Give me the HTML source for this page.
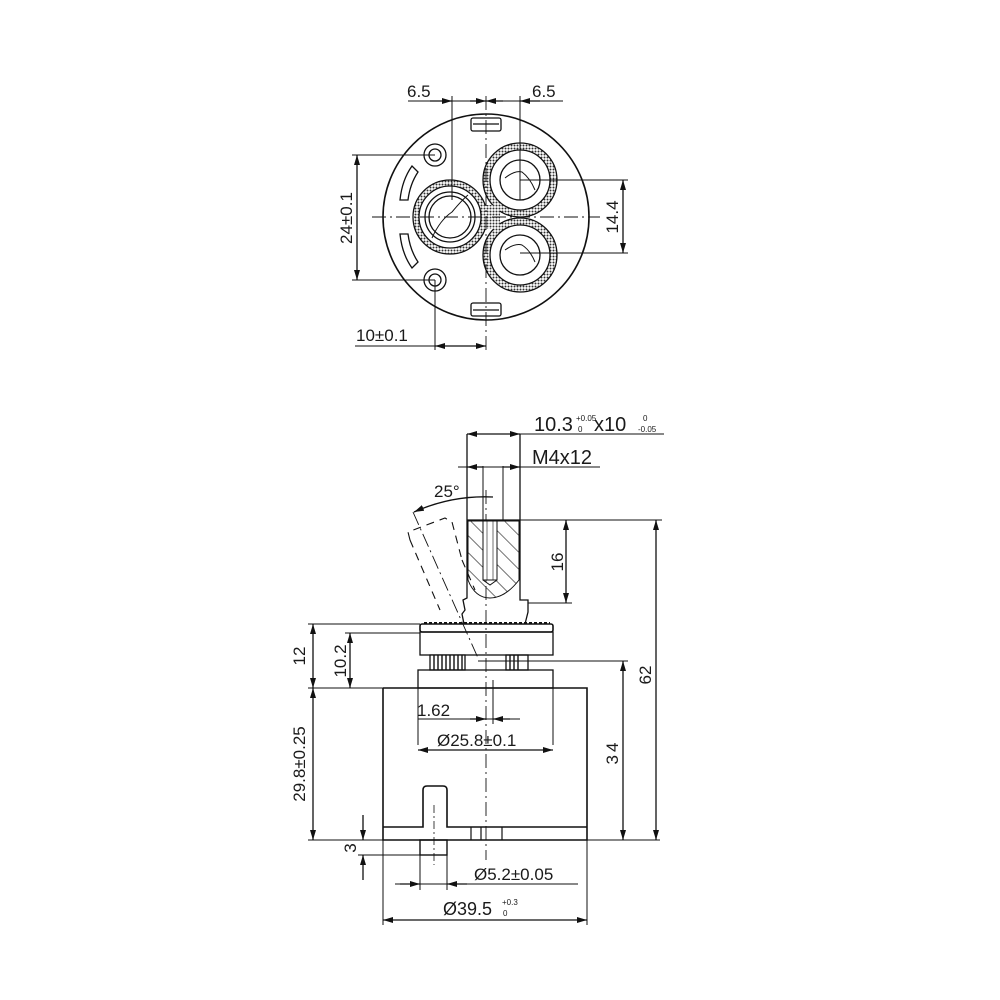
<!DOCTYPE html>
<html><head><style>
html,body{margin:0;padding:0;background:#fff}
svg{display:block}
text{font-family:"Liberation Sans",sans-serif;fill:#1a1a1a}
</style></head><body>
<svg width="1000" height="1000" viewBox="0 0 1000 1000" xmlns="http://www.w3.org/2000/svg">
<defs>
<marker id="a" viewBox="0 0 10 6" refX="10" refY="3" markerWidth="10" markerHeight="6" orient="auto-start-reverse" markerUnits="userSpaceOnUse"><path d="M0,0 L10,3 L0,6z" fill="#111"/></marker>
<pattern id="h" width="12" height="12" patternUnits="userSpaceOnUse" patternTransform="rotate(-45)"><line x1="0" y1="0" x2="0" y2="12" stroke="#222" stroke-width="1.2"/></pattern>
<pattern id="dots" width="3" height="3" patternUnits="userSpaceOnUse"><rect width="3" height="3" fill="#fff"/><circle cx="1.5" cy="1.5" r="1" fill="#333"/></pattern>
</defs>
<g fill="none" stroke="#111" stroke-width="1.3">
<circle cx="486" cy="217" r="103" stroke-width="1.6"/>
<path d="M450,180 A37,37 0 1 0 450,254 A37,37 0 1 0 450,180Z" fill="url(#dots)"/>
<circle cx="520" cy="180" r="37" fill="url(#dots)"/>
<circle cx="520" cy="255" r="37" fill="url(#dots)"/>
<rect x="478" y="205" width="22" height="24" fill="url(#dots)" stroke="none"/>
<circle cx="450" cy="217" r="31" fill="#fff"/>
<circle cx="450" cy="217" r="25"/>
<circle cx="450" cy="217" r="21"/>
<path d="M432,238 Q440,220 452,212 Q462,200 468,195" stroke-width="1"/>
<circle cx="520" cy="180" r="30" fill="#fff"/>
<circle cx="520" cy="180" r="20"/>
<path d="M505,178 Q515,170 522,172 Q530,178 535,190" stroke-width="1"/>
<circle cx="520" cy="255" r="30" fill="#fff"/>
<circle cx="520" cy="255" r="20"/>
<path d="M505,250 Q515,243 522,245 Q530,250 535,262" stroke-width="1"/>
<circle cx="435" cy="155" r="11"/><circle cx="435" cy="155" r="6"/>
<circle cx="435" cy="280" r="11"/><circle cx="435" cy="280" r="6"/>
<rect x="471" y="118" width="30" height="13" rx="2"/><line x1="473" y1="124" x2="499" y2="124"/>
<rect x="471" y="303" width="30" height="13" rx="2"/><line x1="473" y1="310" x2="499" y2="310"/>
<path d="M412,166 Q402,180 400,200 L408,200 Q410,184 418,172Z"/>
<path d="M400,234 Q402,254 412,268 L418,262 Q410,250 408,234Z"/>
<line x1="372" y1="217" x2="600" y2="217" stroke-width="0.9" stroke-dasharray="14,4,2,4"/>
<line x1="486" y1="96" x2="486" y2="350" stroke-width="0.9" stroke-dasharray="14,4,2,4"/>
<line x1="452" y1="96" x2="452" y2="200" stroke-width="1"/>
<line x1="520" y1="96" x2="520" y2="200" stroke-width="1"/>
<line x1="408" y1="101" x2="563" y2="101" stroke-width="1"/>
<line x1="430" y1="101" x2="452" y2="101" marker-end="url(#a)"/>
<line x1="470" y1="101" x2="486" y2="101" marker-end="url(#a)"/>
<line x1="503" y1="101" x2="486" y2="101" marker-end="url(#a)"/>
<line x1="540" y1="101" x2="520" y2="101" marker-end="url(#a)"/>
<line x1="352" y1="155" x2="435" y2="155" stroke-width="1"/>
<line x1="352" y1="280" x2="435" y2="280" stroke-width="1"/>
<line x1="357" y1="155" x2="357" y2="280" marker-start="url(#a)" marker-end="url(#a)"/>
<line x1="520" y1="180" x2="628" y2="180" stroke-width="1"/>
<line x1="520" y1="253" x2="628" y2="253" stroke-width="1"/>
<line x1="623" y1="180" x2="623" y2="253" marker-start="url(#a)" marker-end="url(#a)"/>
<line x1="435" y1="280" x2="435" y2="350" stroke-width="1"/>
<line x1="355" y1="346" x2="486" y2="346" stroke-width="1"/>
<line x1="435" y1="346" x2="486" y2="346" marker-start="url(#a)" marker-end="url(#a)"/>

<line x1="486" y1="490" x2="486" y2="860" stroke-width="0.9" stroke-dasharray="14,4,2,4"/>
<path d="M467,434 L467,598 L463,600 L465,610 L462,614 L464,624"/>
<path d="M520,434 L520,600 L528,600 L528,612 L525,624"/>
<path d="M467,520 L520,520"/>
<path d="M468,521 L483,521 L483,580 L490,585 L497,580 L497,521 L519,521 L519,580 Q505,598 490,598 Q475,598 468,580Z" fill="url(#h)" stroke-width="1"/>
<rect x="483" y="521" width="14" height="59" fill="#fff" stroke-width="1"/>
<line x1="487" y1="521" x2="487" y2="580" stroke-width="0.6"/><line x1="493" y1="521" x2="493" y2="580" stroke-width="0.6"/>
<line x1="483" y1="466" x2="483" y2="521" stroke-width="1"/>
<line x1="503" y1="466" x2="503" y2="521" stroke-width="1"/>
<line x1="467" y1="434" x2="664" y2="434" stroke-width="1"/>
<line x1="467" y1="434" x2="520" y2="434" marker-start="url(#a)" marker-end="url(#a)"/>
<line x1="458" y1="467" x2="600" y2="467" stroke-width="1"/>
<line x1="467" y1="467" x2="483" y2="467" marker-start="url(#a)"/>
<line x1="503" y1="467" x2="520" y2="467" marker-end="url(#a)"/>
<path d="M414,512 Q452,495 493,497" marker-start="url(#a)"/>
<line x1="413" y1="512" x2="478" y2="658" stroke-width="0.9" stroke-dasharray="14,4,2,4"/>
<path d="M410,540 L408,532 L445,518 L452,522 L462,560 M410,540 L440,610 M462,560 L475,590" stroke-dasharray="8,6" stroke-width="1.1"/>
<line x1="520" y1="520" x2="662" y2="520" stroke-width="1"/>
<line x1="528" y1="603" x2="572" y2="603" stroke-width="1"/>
<line x1="566" y1="520" x2="566" y2="603" marker-start="url(#a)" marker-end="url(#a)"/>
<rect x="420" y="624" width="133" height="8" rx="2" stroke-width="1.6"/>
<line x1="424" y1="623" x2="550" y2="623" stroke-width="2" stroke-dasharray="3,2"/>
<rect x="420" y="632" width="133" height="23"/>
<rect x="430" y="655" width="35" height="15" fill="#fff"/>
<path d="M434,655V670M438,655V670M442,655V670M446,655V670M450,655V670M454,655V670M458,655V670M462,655V670" stroke-width="1.4"/>
<rect x="506" y="655" width="22" height="15"/>
<path d="M510,655V670M514,655V670M518,655V670" stroke-width="1.4"/>
<rect x="418" y="670" width="135" height="18"/>
<path d="M383,688 L587,688 L587,827 M383,688 L383,840 L587,840 L587,827 L447,827 L447,790 Q447,786 443,786 L427,786 Q423,786 423,790 L423,827 L383,827" stroke-width="1.6"/>
<path d="M471,827V840M481,827V840M502,827V840" stroke-width="1.2"/>
<rect x="420" y="840" width="27" height="15" stroke-width="1.4"/>
<line x1="434" y1="805" x2="434" y2="865" stroke-width="0.8" stroke-dasharray="8,3,2,3"/>
<line x1="308" y1="624" x2="420" y2="624" stroke-width="1"/>
<line x1="345" y1="633" x2="420" y2="633" stroke-width="1"/>
<line x1="308" y1="688" x2="418" y2="688" stroke-width="1"/>
<line x1="313" y1="624" x2="313" y2="688" marker-start="url(#a)" marker-end="url(#a)"/>
<line x1="350" y1="633" x2="350" y2="688" marker-start="url(#a)" marker-end="url(#a)"/>
<line x1="308" y1="840" x2="383" y2="840" stroke-width="1"/>
<line x1="313" y1="688" x2="313" y2="840" marker-start="url(#a)" marker-end="url(#a)"/>
<line x1="478" y1="661" x2="628" y2="661" stroke-width="1"/>
<line x1="587" y1="840" x2="660" y2="840" stroke-width="1"/>
<line x1="623" y1="661" x2="623" y2="840" marker-start="url(#a)" marker-end="url(#a)"/>
<line x1="656" y1="520" x2="656" y2="840" marker-start="url(#a)" marker-end="url(#a)"/>
<line x1="358" y1="855" x2="420" y2="855" stroke-width="1"/>
<line x1="363" y1="815" x2="363" y2="840" marker-end="url(#a)"/>
<line x1="363" y1="880" x2="363" y2="855" marker-end="url(#a)"/>
<line x1="418" y1="688" x2="418" y2="745" stroke-width="1"/>
<line x1="553" y1="688" x2="553" y2="745" stroke-width="1"/>
<line x1="493" y1="680" x2="493" y2="724" stroke-width="1"/>
<line x1="418" y1="719" x2="520" y2="719" stroke-width="1"/>
<line x1="470" y1="719" x2="486" y2="719" marker-end="url(#a)"/>
<line x1="510" y1="719" x2="493" y2="719" marker-end="url(#a)"/>
<line x1="418" y1="750" x2="553" y2="750" marker-start="url(#a)" marker-end="url(#a)"/>
<line x1="420" y1="855" x2="420" y2="890" stroke-width="1"/>
<line x1="447" y1="855" x2="447" y2="890" stroke-width="1"/>
<line x1="395" y1="884" x2="578" y2="884" stroke-width="1"/>
<line x1="400" y1="884" x2="420" y2="884" marker-end="url(#a)"/>
<line x1="467" y1="884" x2="447" y2="884" marker-end="url(#a)"/>
<line x1="383" y1="840" x2="383" y2="925" stroke-width="1"/>
<line x1="587" y1="840" x2="587" y2="925" stroke-width="1"/>
<line x1="383" y1="920" x2="587" y2="920" marker-start="url(#a)" marker-end="url(#a)"/>
</g>
<g font-size="17">
<text x="407" y="97">6.5</text>
<text x="532" y="97">6.5</text>
<text x="356" y="341">10±0.1</text>
<text transform="translate(352,218) rotate(-90)" text-anchor="middle">24±0.1</text>
<text transform="translate(618,217) rotate(-90)" text-anchor="middle">14.4</text>
<text x="534" y="431" font-size="20">10.3</text>
<text x="576" y="421" font-size="8">+0.05</text><text x="578" y="432" font-size="8">0</text>
<text x="594" y="431" font-size="20">x10</text>
<text x="643" y="421" font-size="8">0</text><text x="638" y="432" font-size="8">-0.05</text>
<text x="532" y="464" font-size="20">M4x12</text>
<text x="434" y="497">25°</text>
<text transform="translate(563,562) rotate(-90)" text-anchor="middle">16</text>
<text transform="translate(305,656) rotate(-90)" text-anchor="middle">12</text>
<text transform="translate(346,661) rotate(-90)" text-anchor="middle">10.2</text>
<text transform="translate(651,675) rotate(-90)" text-anchor="middle">62</text>
<text x="417" y="716">1.62</text>
<text x="437" y="746">Ø25.8±0.1</text>
<text transform="translate(618,752) rotate(-90)" text-anchor="middle" letter-spacing="3">34</text>
<text transform="translate(305,764) rotate(-90)" text-anchor="middle">29.8±0.25</text>
<text transform="translate(356,848) rotate(-90)" text-anchor="middle">3</text>
<text x="474" y="880">Ø5.2±0.05</text>
<text x="443" y="915" font-size="18">Ø39.5</text>
<text x="502" y="905" font-size="8">+0.3</text><text x="503" y="916" font-size="8">0</text>
</g>
</svg>
</body></html>
